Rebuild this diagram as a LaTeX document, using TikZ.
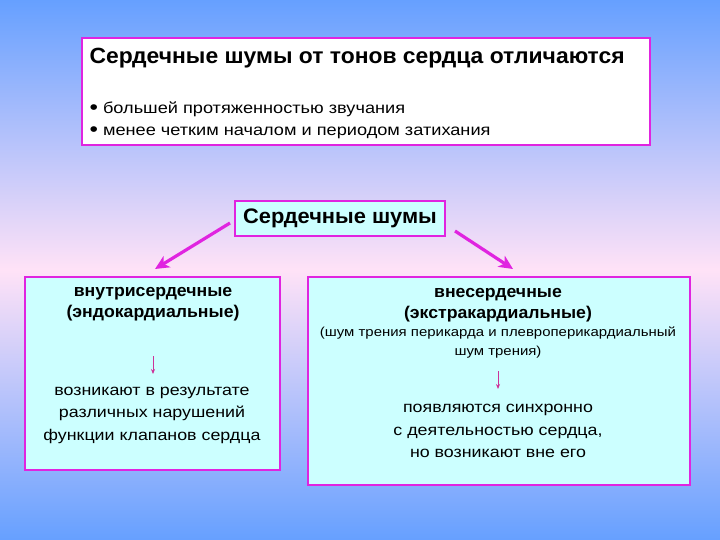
\documentclass[tikz,border=0pt]{standalone}
\usepackage{fontspec}
\setmainfont{Liberation Sans}[FakeStretch=1.15, BoldFeatures={FakeStretch=1.04}]
\usetikzlibrary{arrows.meta, positioning}
\definecolor{slideblue}{HTML}{66A0FF}
\definecolor{slidepink}{HTML}{FFE2F7}
\definecolor{framemag}{HTML}{E024E0}
\definecolor{boxcyan}{HTML}{CCFFFF}
\definecolor{smallarrow}{HTML}{CC3399}
\newcommand{\bigdot}{{\fontsize{21}{22}\selectfont\raisebox{-1pt}{\textbullet}}\ }

\begin{document}
\begin{tikzpicture}[
  x=1pt, y=-1pt,
  panel/.style={rectangle, draw=framemag, line width=2.8pt, inner sep=0pt},
  head/.style={font=\fontsize{17}{21}\selectfont\bfseries, align=center},
  body/.style={font=\fontsize{15.5}{22.5}\selectfont, align=center},
  note/.style={font=\fontsize{13}{19}\selectfont, align=center},
  branch/.style={-{Stealth[length=14pt, width=13pt, inset=4pt]}, framemag, line width=3.2pt},
  down/.style={-{Stealth[length=5pt, width=4pt]}, smallarrow, line width=0.8pt}
]
\useasboundingbox (0,0) rectangle (720,540);
\shade[top color=slideblue, bottom color=slideblue, middle color=slidepink] (0,0) rectangle (720,540);

% top box
\draw[panel, fill=white] (82,38) rectangle (650,145);
\node[anchor=west, font=\fontsize{22}{24}\selectfont\bfseries] (title) at (86,58) {Сердечные шумы от тонов сердца отличаются};
\node[anchor=west, font=\fontsize{15.8}{22}\selectfont, align=left] (bullets) at (86,120)
  {\bigdot большей протяженностью звучания\\ \bigdot менее четким началом и периодом затихания};

% middle box
\node[panel, fill=boxcyan, minimum width=210pt, minimum height=35pt, font=\fontsize{21}{23}\selectfont\bfseries] (murmur) at (340,218.5) {Сердечные шумы};

% lower boxes
\draw[panel, fill=boxcyan] (25,277) rectangle (280,470);
\draw[panel, fill=boxcyan] (308,277) rectangle (690,485);
\coordinate (lefttop) at (155,269);
\coordinate (righttop) at (513,269);
\coordinate (murmurl) at (230,223);
\coordinate (murmurr) at (455,231);

\node[head] (intra) at (153,304) {внутрисердечные\\(эндокардиальные)};
\coordinate (intraa) at (153,356);
\coordinate (intrab) at (153,374);
\node[body] (intratext) at (152,415) {возникают в результате\\различных нарушений\\функции клапанов сердца};

\node[head] (extra) at (498,305) {внесердечные\\(экстракардиальные)};
\node[note] (friction) at (498,343) {(шум трения перикарда и плевроперикардиальный\\шум трения)};
\coordinate (extraa) at (498,371);
\coordinate (extrab) at (498,389);
\node[body] (extratext) at (498,431) {появляются синхронно\\с деятельностью сердца,\\но возникают вне его};

\draw[branch] (murmurl) -- (lefttop);
\draw[branch] (murmurr) -- (righttop);
\draw[down] (intraa) -- (intrab);
\draw[down] (extraa) -- (extrab);
\end{tikzpicture}
\end{document}
